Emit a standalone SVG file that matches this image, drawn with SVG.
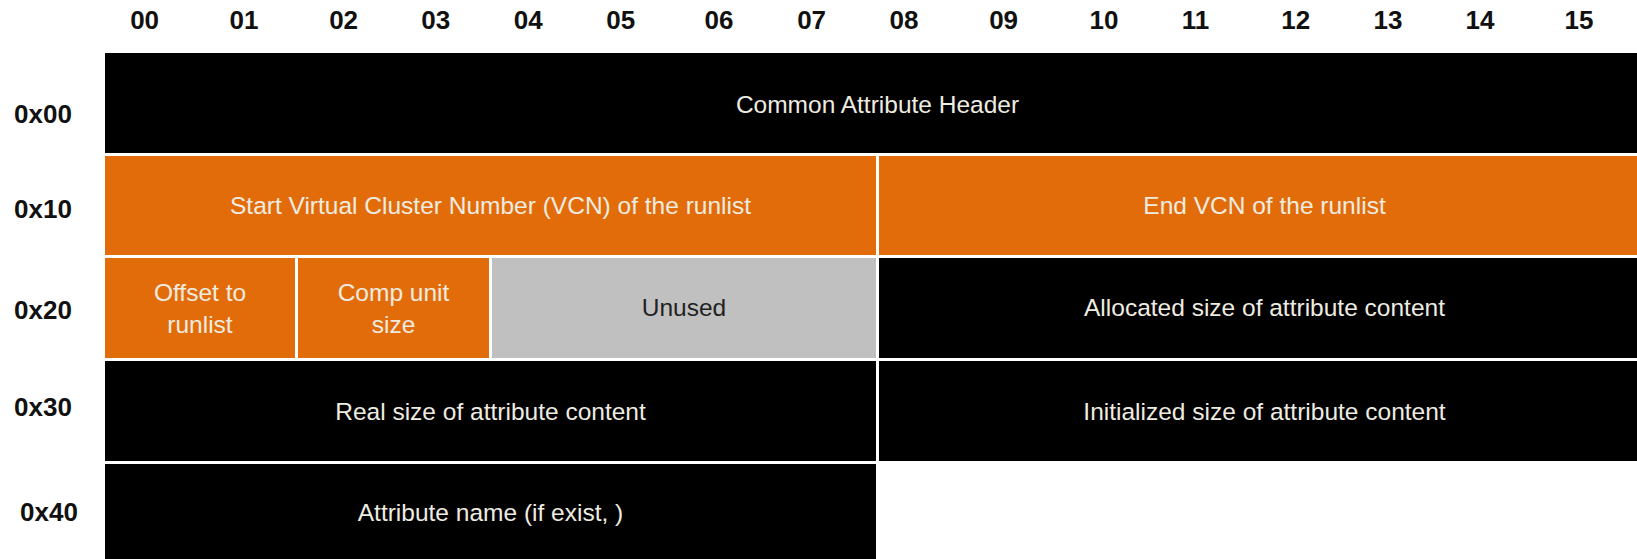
<svg xmlns="http://www.w3.org/2000/svg" width="1637" height="559" viewBox="0 0 1637 559">
<style>
.hd{font-family:"Liberation Sans",Arial,sans-serif;font-weight:bold;font-size:26px;fill:#111;text-anchor:middle}
.lb{font-family:"Liberation Sans",Arial,sans-serif;font-size:24.5px;fill:#EEECE1;text-anchor:middle}
.lbd{font-family:"Liberation Sans",Arial,sans-serif;font-size:24.5px;fill:#222;text-anchor:middle}
.blk{fill:#000}
.org{fill:#E36C0A}
.gry{fill:#C0C0C0}
</style>
<rect width="1637" height="559" fill="#fff"/>
<g id="col-headers">
<text class="hd" x="144.6" y="29">00</text>
<text class="hd" x="244" y="29">01</text>
<text class="hd" x="343.6" y="29">02</text>
<text class="hd" x="435.7" y="29">03</text>
<text class="hd" x="528.3" y="29">04</text>
<text class="hd" x="620.7" y="29">05</text>
<text class="hd" x="719" y="29">06</text>
<text class="hd" x="811.6" y="29">07</text>
<text class="hd" x="904" y="29">08</text>
<text class="hd" x="1003.6" y="29">09</text>
<text class="hd" x="1104" y="29">10</text>
<text class="hd" x="1195.5" y="29">11</text>
<text class="hd" x="1295.7" y="29">12</text>
<text class="hd" x="1388" y="29">13</text>
<text class="hd" x="1480" y="29">14</text>
<text class="hd" x="1579" y="29">15</text>
</g>
<g id="row-headers">
<text class="hd" x="43" y="123">0x00</text>
<text class="hd" x="43" y="218">0x10</text>
<text class="hd" x="43" y="319">0x20</text>
<text class="hd" x="43" y="416">0x30</text>
<text class="hd" x="49" y="521">0x40</text>
</g>
<g id="n-common-header">
<rect class="blk" x="105" y="53" width="1545" height="100"/>
<text class="lb" x="877.5" y="112.7">Common Attribute Header</text>
</g>
<g id="n-start-vcn">
<rect class="org" x="105" y="156" width="771" height="99"/>
<text class="lb" x="490.5" y="213.5">Start Virtual Cluster Number (VCN) of the runlist</text>
</g>
<g id="n-end-vcn">
<rect class="org" x="879" y="156" width="771" height="99"/>
<text class="lb" x="1264.5" y="213.5">End VCN of the runlist</text>
</g>
<g id="n-offset-runlist">
<rect class="org" x="105" y="258" width="190" height="100"/>
<text class="lb" x="200" y="301">Offset to</text>
<text class="lb" x="200" y="332.7">runlist</text>
</g>
<g id="n-comp-unit">
<rect class="org" x="298" y="258" width="191" height="100"/>
<text class="lb" x="393.5" y="301">Comp unit</text>
<text class="lb" x="393.5" y="332.7">size</text>
</g>
<g id="n-unused">
<rect class="gry" x="492" y="258" width="384" height="100"/>
<text class="lbd" x="684" y="316">Unused</text>
</g>
<g id="n-allocated">
<rect class="blk" x="879" y="258" width="771" height="100"/>
<text class="lb" x="1264.5" y="316">Allocated size of attribute content</text>
</g>
<g id="n-real-size">
<rect class="blk" x="105" y="361" width="771" height="100"/>
<text class="lb" x="490.5" y="420">Real size of attribute content</text>
</g>
<g id="n-initialized">
<rect class="blk" x="879" y="361" width="771" height="100"/>
<text class="lb" x="1264.5" y="420">Initialized size of attribute content</text>
</g>
<g id="n-attr-name">
<rect class="blk" x="105" y="464" width="771" height="100"/>
<text class="lb" x="490.5" y="521">Attribute name (if exist, )</text>
</g>
<g id="connectors"></g>
</svg>
